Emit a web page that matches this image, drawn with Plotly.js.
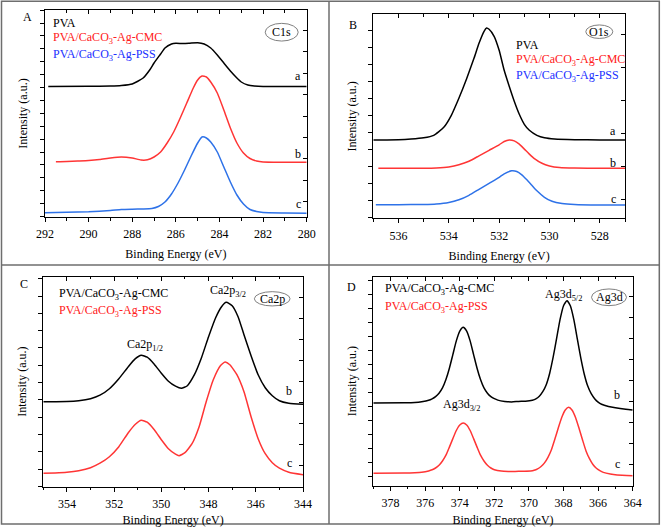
<!DOCTYPE html>
<html><head><meta charset="utf-8">
<script src="https://cdn.plot.ly/plotly-3.0.1.min.js"></script>
<style>html,body{margin:0;padding:0;background:#fff}#chart{width:661px;height:527px}</style>
</head><body><div id="chart"></div>
<script>
// ---------------- DATA (Binding energy in eV, intensity in a.u.) ----------------
// Panel A : C1s
const c1sPvaE = [291.85,290,289,288.5,288,287.5,287.2,287,286.7,286.5,286.2,286,285.7,285.4,285,284.7,284.4,284.1,283.8,283.5,283.2,283,282.7,282.4,282,280];
const c1sPvaI = [130.5,130.7,131,131.5,133,139,147,154,163,169,173,173.7,173.5,173.7,174.3,173,169,162,154,146,139,135,132,131,130.5,130.5];
const c1sCmcE = [291.5,291,290.5,290,289.5,289,288.5,288,287.6,287.3,287,286.7,286.4,286.1,285.8,285.5,285.2,285,284.8,284.6,284.4,284.1,283.8,283.5,283.2,282.9,282.6,282.3,282,281,280];
const c1sCmcI = [55.3,55.5,56,56.5,57.5,59,60,59,57,57.2,60,65,74,85,99,114,129,137,141,140,135,124,107,89,74,64,58.5,56,55,54.8,54.7];
const c1sPssE = [292,291,290,289,288.5,288,287.5,287.1,286.8,286.5,286.2,285.9,285.6,285.3,285,284.8,284.6,284.4,284.1,283.8,283.5,283.2,282.9,282.6,282.3,282,281,280];
const c1sPssI = [4.3,4.7,5.2,6.5,7.5,7.8,8,8.5,10.5,15,23,34,47,61,74,80,79,75,65,50,35,22,13,7.5,5.5,4.5,4,3.7];

// Panel B : O1s
const o1sPvaE = [537,536,535.5,535,534.6,534.2,533.9,533.6,533.3,533,532.8,532.6,532.5,532.4,532.2,532,531.8,531.6,531.4,531.2,531,530.8,530.5,530.2,529.8,529,528,527];
const o1sPvaI = [78.3,78.5,79.2,80.5,83,91,103,120,139,160,175,187,190.3,189,182,168,148,132,117,104,94,88,83,80.5,79.3,78.6,78.3,78.2];
const o1sCmcE = [536.8,536,535,534.5,534,533.6,533.2,532.8,532.4,532,531.8,531.6,531.4,531.2,531,530.8,530.6,530.3,530,529.6,529,528,527];
const o1sCmcI = [50,50,50.1,50.4,51.4,53.5,57,62.5,68,73.5,76.8,78.3,77.4,74.2,69.2,64.2,59.6,55,52.4,50.8,50.2,50,50];
const o1sPssE = [536.9,536,535,534.5,534,533.6,533.2,532.8,532.4,532,531.8,531.5,531.3,531.1,530.9,530.7,530.5,530.2,529.9,529.5,529,528,527];
const o1sPssI = [13.6,13.6,13.8,14.3,15.8,18.5,23,29,35,41,44.5,47.5,46.8,43.5,38.5,33,27.5,21,17,14.8,13.8,13.3,13.2];

// Panel C : Ca2p
const ca2pCmcE = [355,354,353.5,353,352.6,352.2,351.8,351.4,351.1,350.85,350.6,350.3,350,349.7,349.4,349.15,348.9,348.6,348.3,348,347.7,347.45,347.25,347,346.75,346.5,346.2,345.9,345.6,345.3,345,344.6,344];
const ca2pCmcI = [85,85.2,86,88,91.5,98,108,120,128,131.4,129.5,122.5,113.5,105.5,100.5,98.4,101,112,129,150,169,180,184.4,181,170,152,131,112,99,91,86,83.5,82.5];
const ca2pPssE = [355,354.5,354,353.5,353,352.6,352.2,351.8,351.4,351.1,350.85,350.6,350.3,350,349.7,349.4,349.25,349,348.7,348.4,348.1,347.8,347.5,347.3,347.1,346.8,346.5,346.2,345.9,345.6,345.3,345,344.6,344];
const ca2pPssI = [13.4,13.8,14.5,16,19,23.5,30,40,54,62.5,66.4,64.5,57,47,38,32.5,31,34,43,60,85,107,121,124.7,122,112,95,70,48,33,24,18.5,14.5,12];

// Panel D : Ag3d
const ag3dCmcE = [379,377.2,376.6,376.2,375.8,375.6,375.4,375.2,375,374.8,374.6,374.4,374.2,374,373.8,373.6,373.4,373.2,373,372.8,372.6,372.4,372.2,372,371.8,371.4,371,370.6,370.2,369.8,369.6,369.4,369.2,369,368.8,368.6,368.4,368.2,368,367.8,367.6,367.4,367.2,367,366.8,366.6,366.4,366.2,366,365.8,365.4,365,364.4,364];
const ag3dCmcI = [82.7,83,83.3,84,85.4,86.9,89.1,92.5,97.8,106.2,117.5,131.1,144.8,154.6,158.4,154.6,144.8,131.1,117.5,106.2,97.8,92.5,89.1,87,85.6,84.3,83.8,84.3,84.5,85.5,86.8,89.5,94,101,112.5,128.5,147.3,166.3,180,185,179.7,165.8,146.6,127.6,111.5,99.6,92,87,83.6,81.4,79.3,78,76.5,75.7];
const ag3dPssE = [379,377.2,376.6,376.2,375.8,375.6,375.4,375.2,375,374.8,374.6,374.4,374.2,374,373.8,373.6,373.4,373.2,373,372.8,372.6,372.4,372.2,372,371.6,371.2,370.8,370.4,369.9,369.7,369.5,369.3,369.1,368.9,368.7,368.5,368.3,368.1,367.9,367.7,367.5,367.3,367.1,366.9,366.7,366.5,366.3,366.1,365.9,365.7,365.3,364.9,364];
const ag3dPssI = [12.4,12.6,13,13.5,14.8,15.9,17.7,20.4,24.7,30.5,38.6,47.1,55.2,60.7,62.7,60.7,55.2,47.1,38.6,30.5,24.7,20.4,17.7,16,14.6,14.3,14.3,14.5,14.7,15.4,16.9,19.2,22.8,28.4,36,46.6,57.9,68.4,75.7,78.4,75.5,68,57.2,45.7,34.8,27,21.2,17.4,15,13.3,11.6,10.7,10];

// Tick / label text
const xTitle = 'Binding Energy (eV)';
const yTitle = 'Intensity (a.u.)';
const lblPVA = 'PVA';
const lblCMC = 'PVA/CaCO<sub>3</sub>-Ag-CMC';
const lblPSS = 'PVA/CaCO<sub>3</sub>-Ag-PSS';

// ---------------- LAYOUT ----------------
const W = 661, H = 527;
const fx = p => p / W, fy = p => 1 - p / H;
const FONT = 'Liberation Serif, Times New Roman, serif';
const RED = '#ff3535', BLUE = '#2e72e8', BLACK = '#000000';
const TXT_RED = '#ff2020', TXT_BLUE = '#1a30ff';

function curve(x, y, color, n) {
  return {x, y, type: 'scatter', mode: 'lines', line: {color, width: 1.5, shape: 'spline', smoothing: 0.5},
          xaxis: 'x' + (n === 1 ? '' : n), yaxis: 'y' + (n === 1 ? '' : n), hoverinfo: 'skip', showlegend: false};
}

const traces = [
  curve(c1sPvaE, c1sPvaI, BLACK, 1), curve(c1sCmcE, c1sCmcI, RED, 1), curve(c1sPssE, c1sPssI, BLUE, 1),
  curve(o1sPvaE, o1sPvaI, BLACK, 2), curve(o1sCmcE, o1sCmcI, RED, 2), curve(o1sPssE, o1sPssI, BLUE, 2),
  curve(ca2pCmcE, ca2pCmcI, BLACK, 3), curve(ca2pPssE, ca2pPssI, RED, 3),
  curve(ag3dCmcE, ag3dCmcI, BLACK, 4), curve(ag3dPssE, ag3dPssI, RED, 4)
];
for (let k = 5; k <= 8; k++) traces.push({x: [null], y: [null], type: 'scatter', mode: 'lines', xaxis: 'x' + k, yaxis: 'y' + k, showlegend: false, hoverinfo: 'skip'});

// panel geometry in pixels
const panels = [
  {l: 45, r: 306.7, t: 10, b: 217, xr: [292, 280], yl: {t0: 0.5, d: 12.9}, yr: {t0: 15.3, d: 21.4}},
  {l: 373.3, r: 625, t: 14.3, b: 218.3, xr: [537, 527], yl: {t0: 0.6, d: 17}, yr: {t0: 19.3, d: 33}},
  {l: 43.3, r: 303, t: 276.7, b: 486.7, xr: [355, 344], yl: {t0: 0.4, d: 17.3}, yr: {t0: 0.7, d: 21}},
  {l: 373.3, r: 632.7, t: 276.7, b: 485.7, xr: [379, 364], yl: {t0: 9.4, d: 14}, yr: {t0: 0.7, d: 21}}
];

const layout = {
  width: W, height: H, margin: {l: 0, r: 0, t: 0, b: 0},
  paper_bgcolor: '#fff', plot_bgcolor: '#fff', showlegend: false,
  font: {family: FONT, size: 12, color: '#000'},
  annotations: [], shapes: []
};

panels.forEach((p, i) => {
  const n = i + 1, s = n === 1 ? '' : String(n), o = String(n + 4);
  const yr = [0, p.b - p.t];
  const common = {showgrid: false, zeroline: false, showline: true, linecolor: '#000', linewidth: 1, fixedrange: true};
  layout['xaxis' + s] = Object.assign({}, common, {
    domain: [fx(p.l), fx(p.r)], range: p.xr, anchor: 'y' + s,
    ticks: 'outside', ticklen: 4, tickwidth: 1, tickcolor: '#000', dtick: 2, tick0: 0,
    minor: {ticks: 'outside', ticklen: 2.5, dtick: 1, tickcolor: '#000'},
    ticklabelstandoff: 2,
    tickfont: {size: 12, family: FONT, color: '#000'},
    title: {text: xTitle, font: {size: 12, family: FONT, color: '#000'}, standoff: 9}
  });
  layout['yaxis' + s] = Object.assign({}, common, {
    domain: [fy(p.b), fy(p.t)], range: yr, anchor: 'x' + s,
    ticks: 'outside', ticklen: 4, tickcolor: '#000', tick0: p.yl.t0, dtick: p.yl.d, showticklabels: false,
    title: {text: yTitle, font: {size: 12, family: FONT, color: '#000'}, standoff: 9}
  });
  layout['xaxis' + o] = Object.assign({}, common, {
    overlaying: 'x' + s, anchor: 'y' + o, side: 'top', range: p.xr,
    ticks: 'inside', ticklen: 4, tickcolor: '#000', dtick: 2, tick0: 0, showticklabels: false,
    minor: {ticks: 'inside', ticklen: 2.5, dtick: 1, tickcolor: '#000'}
  });
  layout['yaxis' + o] = Object.assign({}, common, {
    overlaying: 'y' + s, anchor: 'x' + o, side: 'right', range: yr,
    ticks: 'inside', ticklen: 4, tickcolor: '#000', tick0: p.yr.t0, dtick: p.yr.d, showticklabels: false
  });
});

function ann(x, y, text, opts) {
  layout.annotations.push(Object.assign({xref: 'paper', yref: 'paper', x: fx(x), y: fy(y), text, showarrow: false,
    xanchor: 'center', yanchor: 'middle', font: {family: FONT, size: 12, color: '#000'}}, opts || {}));
}
function leg(x, y, text, color) { ann(x, y, text, {xanchor: 'left', font: {family: FONT, size: 12, color}}); }
function ellipse(cx, cy, w, h, text) {
  layout.shapes.push({type: 'circle', xref: 'paper', yref: 'paper', x0: fx(cx - w / 2), x1: fx(cx + w / 2),
    y0: fy(cy + h / 2), y1: fy(cy - h / 2), line: {color: '#808080', width: 1}});
  ann(cx, cy, text, {font: {family: FONT, size: 12, color: '#000'}});
}

// Panel A
ann(27.3, 16.7, 'A');
leg(50.5, 23.3, lblPVA, '#000'); leg(50.5, 38, lblCMC, TXT_RED); leg(50.5, 55, lblPSS, TXT_BLUE);
ann(298, 76, 'a'); ann(298, 154, 'b'); ann(298, 204, 'c');
ellipse(281.7, 32.2, 33, 17.7, 'C1s');
// Panel B
ann(353.3, 25, 'B');
leg(514.3, 44.5, lblPVA, '#000'); leg(514.3, 59.5, lblCMC, TXT_RED); leg(514.3, 76.5, lblPSS, TXT_BLUE);
ann(613, 131, 'a'); ann(613, 163, 'b'); ann(613, 199, 'c');
ellipse(599.3, 31.7, 27, 13.5, 'O1s');
// Panel C
ann(24.3, 284, 'C');
leg(56.7, 294, lblCMC, '#000'); leg(56.7, 311, lblPSS, TXT_RED);
ann(289.3, 391, 'b'); ann(289.3, 462.7, 'c');
ellipse(272.2, 298.8, 35.7, 14.3, 'Ca2p');
ann(145, 344.5, 'Ca2p<sub>1/2</sub>'); ann(227.7, 290.5, 'Ca2p<sub>3/2</sub>');
// Panel D
ann(351, 286.7, 'D');
leg(383.3, 288.5, lblCMC, '#000'); leg(383.3, 307, lblPSS, TXT_RED);
ann(617, 395, 'b'); ann(617, 464, 'c');
ellipse(609, 297.3, 35, 16.7, 'Ag3d');
ann(563.3, 294.5, 'Ag3d<sub>5/2</sub>'); ann(461.7, 404.5, 'Ag3d<sub>3/2</sub>');

// Figure frame and dividers
const frame = {color: '#6e6e6e', width: 1.5};
layout.shapes.push({type: 'rect', xref: 'paper', yref: 'paper', x0: fx(1.5), x1: fx(659.3), y0: fy(524), y1: fy(1.2), line: frame});
layout.shapes.push({type: 'line', xref: 'paper', yref: 'paper', x0: fx(329), x1: fx(329), y0: fy(524), y1: fy(1.2), line: frame});
layout.shapes.push({type: 'line', xref: 'paper', yref: 'paper', x0: fx(1.5), x1: fx(659.3), y0: fy(265), y1: fy(265), line: frame});

Plotly.newPlot('chart', traces, layout, {staticPlot: true, displayModeBar: false});
</script>
</body></html>
